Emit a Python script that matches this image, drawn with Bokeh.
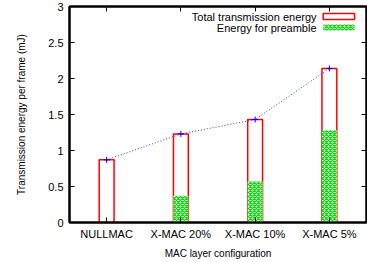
from bokeh.plotting import figure
from bokeh.models import LinearAxis, FixedTicker, Range1d, Label, BoxAnnotation, ColumnDataSource
from bokeh.embed import file_html
from bokeh.resources import INLINE

categories = ["NULLMAC", "X-MAC 20%", "X-MAC 10%", "X-MAC 5%"]
total_energy = [0.87, 1.23, 1.43, 2.14]
preamble_energy = [0.0, 0.37, 0.57, 1.28]
y_ticks = [0, 0.5, 1, 1.5, 2, 2.5, 3]
y_tick_labels = ["0", "0.5", "1", "1.5", "2", "2.5", "3"]
legend_labels = ["Total transmission energy", "Energy for preamble"]

xs = list(range(1, len(categories) + 1))
src = ColumnDataSource(dict(x=xs, total=total_energy, pre=preamble_energy))

FONT = "Liberation Sans"

p = figure(width=367, height=262, x_range=Range1d(0.5, 4.5), y_range=Range1d(0, 3),
           output_backend="svg", toolbar_location=None,
           min_border_left=69, min_border_right=1, min_border_top=6, min_border_bottom=40)
p.grid.visible = False
p.outline_line_color = "black"
p.outline_line_width = 2
p.background_fill_color = "white"
p.border_fill_color = "white"

# bars
p.vbar(x="x", top="total", width=0.2, source=src, fill_color=None,
       line_color="#ff0000", line_width=1.5)
p.vbar(x="x", top="pre", width=0.2, source=src, fill_color="white",
       line_color=None, hatch_pattern="diagonal_cross", hatch_color="#00e000",
       hatch_scale=4, hatch_weight=1.4)
# line through totals
p.line(x="x", y="total", source=src, line_color="#3030ff", line_width=1, line_dash="1 2")
p.scatter(x="x", y="total", source=src, marker="cross", size=6, line_color="#0000ff", line_width=1)

# axes
xt = FixedTicker(ticks=xs)
yt = FixedTicker(ticks=y_ticks)
p.xaxis.ticker = xt
p.xaxis.major_label_overrides = {x: c for x, c in zip(xs, categories)}
p.yaxis.ticker = yt
p.yaxis.major_label_overrides = {t: l for t, l in zip(y_ticks, y_tick_labels)}
p.xaxis.axis_label = "MAC layer configuration"
p.yaxis.axis_label = "Transmission energy per frame (mJ)"

for ax in [p.xaxis[0], p.yaxis[0]]:
    ax.major_tick_in = 5
    ax.major_tick_out = 0
    ax.minor_tick_line_color = None
    ax.axis_line_width = 2
    ax.major_tick_line_width = 1
    ax.major_label_text_font = FONT
    ax.major_label_text_font_size = "11px"
    ax.major_label_text_color = "black"
    ax.axis_label_text_font = FONT
    ax.axis_label_text_font_size = "10px"
    ax.axis_label_text_font_style = "normal"
    ax.axis_label_text_color = "black"

p.xaxis.major_label_standoff = 5
p.xaxis.axis_label_standoff = 5
p.yaxis.major_label_standoff = 6
p.yaxis.axis_label_standoff = 18

top = LinearAxis(ticker=FixedTicker(ticks=xs), major_tick_in=5, major_tick_out=0,
                 minor_tick_line_color=None, axis_line_width=2,
                 major_label_overrides={x: "" for x in xs}, major_label_standoff=0)
right = LinearAxis(ticker=FixedTicker(ticks=y_ticks), major_tick_in=5, major_tick_out=0,
                   minor_tick_line_color=None, axis_line_width=2,
                   major_label_overrides={t: "" for t in y_ticks}, major_label_standoff=0)
p.add_layout(top, "above")
p.add_layout(right, "right")

# legend (gnuplot style: text right-aligned, sample to the right)
ly = [2.861, 2.708]
p.add_layout(Label(x=3.827, y=ly[0], text=legend_labels[0], text_align="right",
                   text_baseline="middle", text_font=FONT, text_font_size="11px",
                   text_color="black"))
p.add_layout(Label(x=3.827, y=ly[1], text=legend_labels[1], text_align="right",
                   text_baseline="middle", text_font=FONT, text_font_size="11px",
                   text_color="black"))
p.add_layout(BoxAnnotation(left=3.917, right=4.339, bottom=2.819, top=2.903,
                           fill_color=None, fill_alpha=0, line_color="#ff0000",
                           line_width=1.5, line_alpha=1))
p.add_layout(BoxAnnotation(left=3.917, right=4.339, bottom=2.667, top=2.75,
                           fill_color="white", fill_alpha=1, line_color=None,
                           hatch_pattern="diagonal_cross", hatch_color="#00e000",
                           hatch_scale=4, hatch_weight=1.4))

open("out.html", "w").write(file_html(p, INLINE))
